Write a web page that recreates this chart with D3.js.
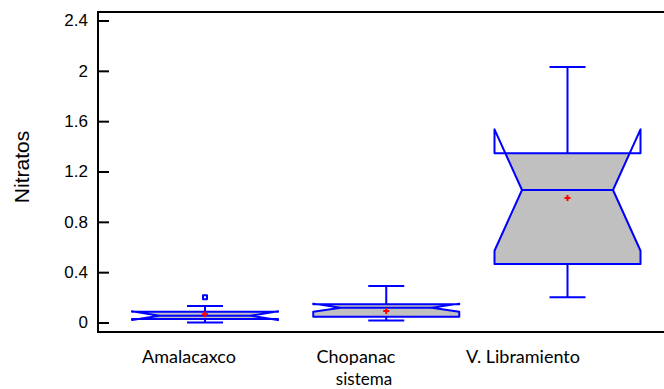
<!DOCTYPE html>
<html>
<head>
<meta charset="utf-8">
<script src="https://cdn.jsdelivr.net/npm/d3@7"></script>
<style>
  body { margin: 0; background: #fff; }
  svg { display: block; font-family: "Liberation Sans", Arial, sans-serif; }
</style>
</head>
<body>
<svg class="chart" width="664" height="389"></svg>
<script>

// box plot values
const categories = ['Amalacaxco', 'Chopanac', 'V. Libramiento'];
const whiskerLow  = [0.0,   0.015, 0.20];
const q1          = [0.028, 0.046, 0.465];
const medians     = [0.054, 0.118, 1.053];
const q3          = [0.086, 0.145, 1.345];
const whiskerHigh = [0.131, 0.29,  2.03];
const notchLow    = [0.019, 0.086, 0.57];
const notchHigh   = [0.089, 0.15,  1.535];
const means       = [0.065, 0.091, 0.99];
const outliers    = [[0.20], [], []];

const yTicks = [0, 0.4, 0.8, 1.2, 1.6, 2, 2.4];

const chart = {};

chart.svg = d3.select('svg.chart');

chart.y = d3.scaleLinear().domain([0, 2.4]).range([322.5, 20.5]);
chart.x = d3.scalePoint().domain(categories).range([205, 567.5]);
// the category names sit a bit left of the boxes in the original
chart.xLabel = d3.scalePoint().domain(categories).range([189, 523]);

const boxW = 146;
const notchInset = 27.5;
const capW = 36;
const blue = '#0000ff';

const boxes = categories.map((c, i) => ({
    name: c,
    lo: whiskerLow[i], q1: q1[i], med: medians[i], q3: q3[i], hi: whiskerHigh[i],
    nlo: notchLow[i], nhi: notchHigh[i], mean: means[i], out: outliers[i]
}));

const defs = chart.svg.append('defs');

// frame: left, top and bottom lines
const frame = chart.svg.append('g');
frame.append('line').attr('x1', 98).attr('x2', 98).attr('y1', 12).attr('y2', 332);
frame.append('line').attr('x1', 97).attr('x2', 664).attr('y1', 12).attr('y2', 12);
frame.append('line').attr('x1', 97).attr('x2', 664).attr('y1', 332).attr('y2', 332);
frame.selectAll('line').attr('stroke', '#000').attr('stroke-width', 2);

// y axis, ticks pointing into the plot
const yAxis = chart.svg.append('g')
    .attr('transform', 'translate(98,0)')
    .call(d3.axisRight(chart.y).tickValues(yTicks).tickSize(11).tickFormat(d3.format('')));
yAxis.select('.domain').remove();
yAxis.selectAll('.tick line').attr('stroke', '#000').attr('stroke-width', 2);
yAxis.selectAll('.tick text')
    .attr('x', -10)
    .attr('text-anchor', 'end')
    .attr('font-size', 17)
    .attr('font-family', '"Liberation Sans", Arial, sans-serif')
    .attr('fill', '#000');

chart.svg.append('text')
    .attr('transform', 'translate(29,167) rotate(-90)')
    .attr('text-anchor', 'middle')
    .attr('font-size', 21)
    .text('Nitratos');

// boxes
const g = chart.svg.append('g');

boxes.forEach((d, i) => {

    const cx = chart.x(d.name);
    const L = cx - boxW / 2, R = cx + boxW / 2;
    const y = chart.y;

    defs.append('clipPath').attr('id', 'clip-box-' + i)
        .append('rect')
        .attr('x', L - 2).attr('width', boxW + 4)
        .attr('y', y(d.q3)).attr('height', y(d.q1) - y(d.q3));

    const pts = [
        [L, y(d.q1)], [L, y(d.nlo)], [L + notchInset, y(d.med)], [L, y(d.nhi)], [L, y(d.q3)],
        [R, y(d.q3)], [R, y(d.nhi)], [R - notchInset, y(d.med)], [R, y(d.nlo)], [R, y(d.q1)]
    ];

    // fill only between the quartiles
    g.append('path')
        .attr('d', d3.line()(pts) + 'Z')
        .attr('clip-path', `url(#clip-box-${i})`)
        .attr('fill', '#c0c0c0')
        .attr('stroke', 'none');

    // whiskers
    g.append('line').attr('x1', cx).attr('x2', cx).attr('y1', y(d.q3)).attr('y2', y(d.hi));
    g.append('line').attr('x1', cx).attr('x2', cx).attr('y1', y(d.q1)).attr('y2', y(d.lo));
    g.append('line').attr('x1', cx - capW / 2).attr('x2', cx + capW / 2).attr('y1', y(d.hi)).attr('y2', y(d.hi));
    g.append('line').attr('x1', cx - capW / 2).attr('x2', cx + capW / 2).attr('y1', y(d.lo)).attr('y2', y(d.lo));

    g.append('path').attr('d', d3.line()(pts) + 'Z');
    g.append('line').attr('x1', L + notchInset).attr('x2', R - notchInset).attr('y1', y(d.med)).attr('y2', y(d.med));

    d.out.forEach(v => {
        g.append('rect')
            .attr('x', cx - 2).attr('y', y(v) - 2)
            .attr('width', 4).attr('height', 4);
    });

    // mean marker
    g.append('path')
        .attr('d', `M${cx - 3},${y(d.mean)}H${cx + 3}M${cx},${y(d.mean) - 3}V${y(d.mean) + 3}`)
        .attr('stroke', '#ff0000')
        .attr('stroke-width', 2)
        .attr('fill', 'none')
        .classed('mean', true);

});

g.selectAll('line, path:not([clip-path]):not(.mean), rect')
    .attr('stroke', blue)
    .attr('stroke-width', 2)
    .attr('fill', 'none')
    .attr('stroke-linejoin', 'round');

// category labels (the descender of Chopanac is cut off in the original)
defs.append('clipPath').attr('id', 'clip-labels')
    .append('rect').attr('x', 0).attr('y', 330).attr('width', 664).attr('height', 35);

chart.svg.append('g')
    .attr('clip-path', 'url(#clip-labels)')
    .selectAll('text')
    .data(categories)
    .join('text')
    .attr('x', d => chart.xLabel(d))
    .attr('y', 363)
    .attr('text-anchor', 'middle')
    .attr('font-family', 'Lato, sans-serif')
    .attr('font-size', 18)
    .text(d => d);

chart.svg.append('text')
    .attr('x', 364)
    .attr('y', 385)
    .attr('text-anchor', 'middle')
    .attr('font-family', 'Lato, sans-serif')
    .attr('font-size', 17)
    .text('sistema');

</script>
</body>
</html>
